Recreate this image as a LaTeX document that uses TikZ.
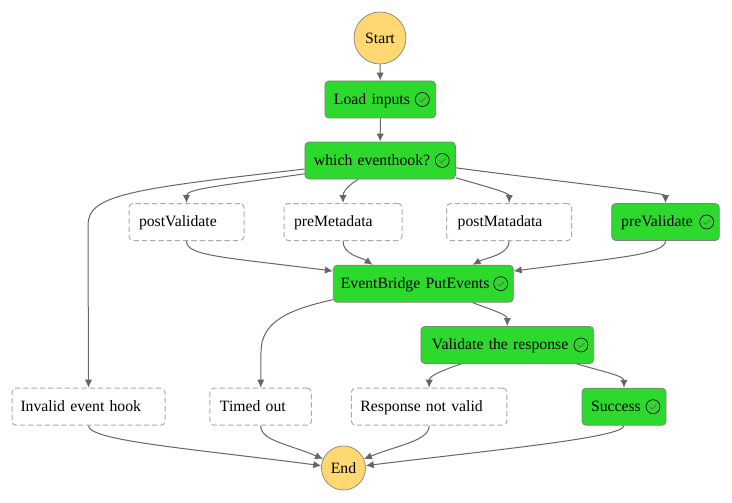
\documentclass[tikz,border=0pt]{standalone}
\usepackage{fontspec}
\setmainfont{Liberation Serif}
\usetikzlibrary{arrows.meta}
\definecolor{okgreen}{HTML}{2DD92D}
\definecolor{startyellow}{HTML}{FFD872}
\definecolor{edgegray}{HTML}{666666}
\definecolor{boxgray}{HTML}{808080}
\definecolor{dashgray}{HTML}{ABABAB}
\tikzset{
  x=0.75pt,y=-0.75pt,
  every node/.style={font=\fontsize{11.8}{14}\selectfont,text=black},
  roundstate/.style={circle,draw=boxgray,fill=startyellow,line width=0.5pt,inner sep=0pt,align=center},
  boxsize/.style 2 args={rectangle,rounded corners=3pt,minimum height=37*0.75pt,inner ysep=0pt,
     inner xsep=#2*0.75pt,text width=(#1-2*#2)*0.75pt,align=left,text height=9pt,text depth=2.2pt},
  donebox/.style={draw=boxgray,fill=okgreen,line width=0.6pt},
  idlebox/.style={draw=dashgray,fill=white,line width=0.75pt,dash pattern=on 4pt off 2.2pt},
  flow/.style={draw=edgegray,line width=0.75pt,-{Latex[length=6pt,width=5.5pt]}},
  okicon/.pic={
    \draw[black,line width=0.5pt] (0,0) circle[radius=7];
    \draw[edgegray,line width=0.6pt] (-3.2,0.2) -- (-1,2.4) -- (3.4,-2);
  }
}
\begin{document}
\begin{tikzpicture}
\useasboundingbox (0,0) rectangle (732,503);
% nodes
\node[roundstate,minimum size=52*0.75pt] (start) at (380,38) {Start};
\node[boxsize={110.7}{9},donebox] (load) at (380.3,99.5) {Load inputs};
\node[boxsize={150.5}{9},donebox] (which) at (380.2,160.5) {which eventhook?};
\node[boxsize={115}{10},idlebox] (postv) at (186.5,222) {postValidate};
\node[boxsize={118}{10},idlebox] (prem) at (343,222) {preMetadata};
\node[boxsize={125}{11},idlebox] (postm) at (509.2,222) {postMatadata};
\node[boxsize={107.6}{9.5},donebox] (prev) at (665.5,222) {preValidate};
\node[boxsize={180}{7.5},donebox] (eb) at (423.3,283.7) {EventBridge PutEvents};
\node[boxsize={172.7}{11},donebox] (valid) at (507.3,345) {Validate the response};
\node[boxsize={153}{8.5},idlebox] (invalid) at (88.5,406.7) {Invalid event hook};
\node[boxsize={101.5}{10},idlebox] (timed) at (260.7,406.7) {Timed out};
\node[boxsize={155.5}{9},idlebox] (resp) at (429.2,406.7) {Response not valid};
\node[boxsize={84}{9},donebox] (succ) at (624,406.7) {Success};
\node[roundstate,minimum size=44*0.75pt] (end) at (343.5,468) {End};
\coordinate (invalidbend) at (88,225);
\coordinate (timedbend) at (261,352);
% status icons
\pic at (422.3,99.5) {okicon};
\pic at (442.3,160.5) {okicon};
\pic at (706.7,222) {okicon};
\pic at (500.7,283.7) {okicon};
\pic at (581,345) {okicon};
\pic at (653,406.7) {okicon};
% connectors
\draw[flow] (start.south) -- (load.north);
\draw[flow] (load.south) -- (which.north);
\draw[flow] ([xshift=-16.5pt]which.south) .. controls +(-12,7) and +(0,-10) .. (prem.north);
\draw[flow] ([yshift=-10pt]which.west) .. controls +(-85,12) and +(0,-14) .. (postv.north);
\draw[flow] ([yshift=-6.4pt]which.west) .. controls +(-175,20) and +(0,-30) .. (invalidbend) -- (invalid.north);
\draw[flow] ([yshift=-13pt]which.east) .. controls +(35,10) and +(0,-10) .. (postm.north);
\draw[flow] ([yshift=-5.5pt]which.east) .. controls +(130,17) and +(0,-10) .. (prev.north);
\draw[flow] (postv.south) .. controls +(0,15) and +(-110,-14) .. ([yshift=9.5pt]eb.west);
\draw[flow] (prem.south) .. controls +(0,14) and +(-12,-8) .. ([xshift=-38pt]eb.north);
\draw[flow] (postm.south) .. controls +(0,14) and +(13,-7) .. ([xshift=37pt]eb.north);
\draw[flow] (prev.south) .. controls +(0,14) and +(100,-13) .. ([yshift=9.5pt]eb.east);
\draw[flow] ([xshift=37pt]eb.south) .. controls +(15,6) and +(0,-12) .. (valid.north);
\draw[flow] ([yshift=-12pt]eb.west) .. controls +(-45,10) and +(0,-30) .. (timedbend) -- (timed.north);
\draw[flow] ([xshift=-34.5pt]valid.south) .. controls +(-18,6) and +(0,-12) .. (resp.north);
\draw[flow] ([xshift=52pt]valid.south) .. controls +(24,7) and +(0,-12) .. (succ.north);
\draw[flow] (invalid.south) .. controls +(0,15) and +(-130,-17) .. (end.174);
\draw[flow] (timed.south) .. controls +(0,15) and +(-35,-15) .. (end.156);
\draw[flow] (resp.south) .. controls +(0,15) and +(35,-14) .. (end.24);
\draw[flow] (succ.south) .. controls +(0,12) and +(130,-16) .. (end.6);
\end{tikzpicture}
\end{document}
